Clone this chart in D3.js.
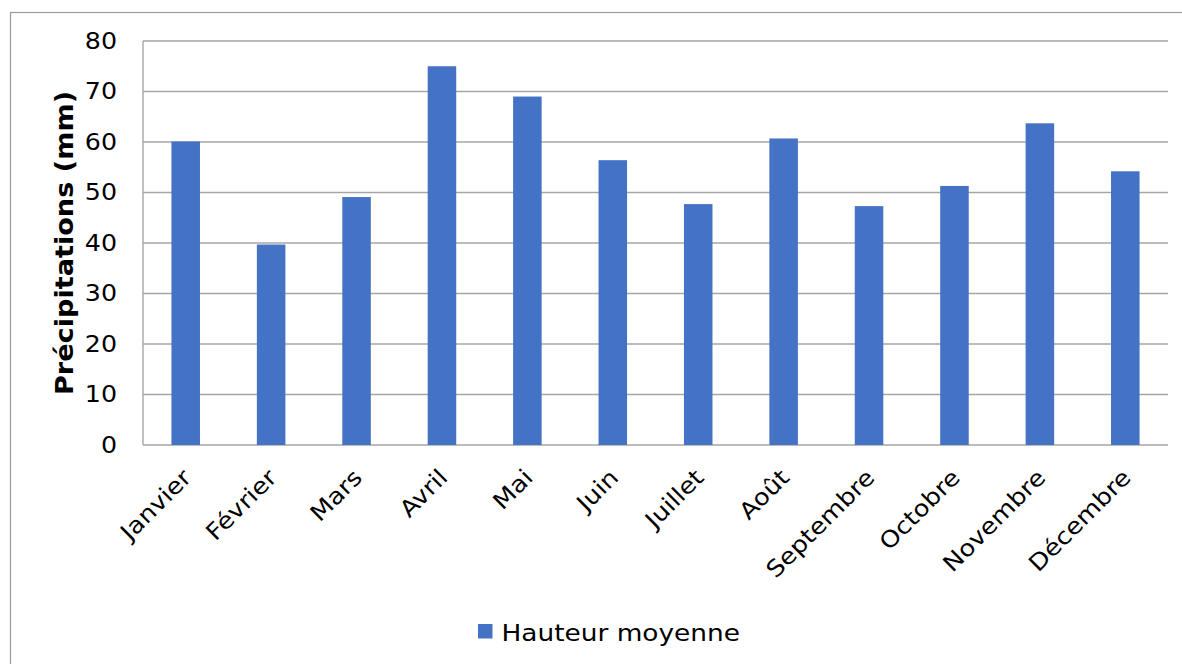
<!DOCTYPE html>
<html>
<head>
<meta charset="utf-8">
<script src="https://cdn.jsdelivr.net/npm/d3@7"></script>
<style>
  html, body { margin: 0; padding: 0; background: #fff; }
  svg { display: block; }
  text { font-family: "DejaVu Sans", Verdana, sans-serif; fill: #000; }
</style>
</head>
<body>
<svg id="chart" width="1182" height="664"></svg>
<script>
// Monthly mean precipitation
const months = ["Janvier", "Février", "Mars", "Avril", "Mai", "Juin",
                "Juillet", "Août", "Septembre", "Octobre", "Novembre", "Décembre"];
const hauteurMoyenne = [60.1, 39.7, 49.1, 75.0, 69.0, 56.4, 47.7, 60.7, 47.3, 51.3, 63.7, 54.2];
const yTicks = [0, 10, 20, 30, 40, 50, 60, 70, 80];
const seriesName = "Hauteur moyenne";
const yTitle = "Précipitations (mm)";

const svg = d3.select("#chart");
const plot = { left: 143, right: 1168, top: 41, bottom: 445 };
const barColor = "#4472C4";
const gridColor = "#a6a6a6";

// Widen glyphs along the text direction (Verdana-like proportions)
function widen(sel, factor) {
  sel.each(function () {
    const len = this.getComputedTextLength();
    d3.select(this)
      .attr("textLength", len * factor)
      .attr("lengthAdjust", "spacingAndGlyphs");
  });
}

// Chart area frame
svg.append("rect")
  .attr("x", 10.5).attr("y", 12.5)
  .attr("width", 1300).attr("height", 800)
  .attr("fill", "none").attr("stroke", "#9a9a9a").attr("stroke-width", 1.2);

const x = d3.scaleBand()
  .domain(months)
  .range([plot.left, plot.right])
  .paddingInner(0.666)
  .paddingOuter(0.333);

const y = d3.scaleLinear()
  .domain([0, 80])
  .range([plot.bottom, plot.top]);

// Horizontal gridlines
svg.append("g")
  .selectAll("line")
  .data(yTicks)
  .join("line")
  .attr("x1", plot.left).attr("x2", plot.right)
  .attr("y1", d => y(d)).attr("y2", d => y(d))
  .attr("stroke", gridColor).attr("stroke-width", 1.4);

// Left edge of the plot area
svg.append("line")
  .attr("x1", plot.left).attr("x2", plot.left)
  .attr("y1", plot.top).attr("y2", plot.bottom)
  .attr("stroke", gridColor).attr("stroke-width", 1.4);

// Bars
svg.append("g")
  .selectAll("rect")
  .data(hauteurMoyenne)
  .join("rect")
  .attr("x", (d, i) => x(months[i]))
  .attr("width", x.bandwidth())
  .attr("y", d => y(d))
  .attr("height", d => y(0) - y(d))
  .attr("fill", barColor);

// Y axis labels
const yAxis = d3.axisLeft(y).tickValues(yTicks).tickSize(0).tickPadding(26);
const gy = svg.append("g")
  .attr("transform", `translate(${plot.left},0)`)
  .call(yAxis);
gy.select(".domain").remove();
gy.selectAll("text")
  .style("font-family", '"DejaVu Sans", Verdana, sans-serif')
  .style("font-size", "23px")
  .attr("fill", "#000")
  .call(widen, 1.1);

// X axis labels, rotated
const xAxis = d3.axisBottom(x).tickSize(0).tickPadding(0);
const gx = svg.append("g")
  .attr("transform", `translate(0,${plot.bottom})`)
  .call(xAxis);
gx.select(".domain").remove();
gx.selectAll("text")
  .style("font-family", '"DejaVu Sans", Verdana, sans-serif')
  .style("font-size", "23px")
  .attr("fill", "#000")
  .attr("text-anchor", "end")
  .attr("dy", null)
  .attr("y", 0)
  .attr("transform", "translate(7,34) rotate(-45)")
  .call(widen, 1.12);

// Y axis title
svg.append("text")
  .attr("transform", `translate(73,${(plot.top + plot.bottom) / 2}) rotate(-90)`)
  .attr("text-anchor", "middle")
  .style("font-size", "24px")
  .style("font-weight", "bold")
  .text(yTitle)
  .call(widen, 1.13);

// Legend
const legend = svg.append("g").attr("transform", "translate(478,624)");
legend.append("rect")
  .attr("width", 14.5).attr("height", 14.5)
  .attr("fill", barColor);
legend.append("text")
  .attr("x", 23.5).attr("y", 16.5)
  .style("font-size", "23px")
  .text(seriesName)
  .call(widen, 1.146);
</script>
</body>
</html>
